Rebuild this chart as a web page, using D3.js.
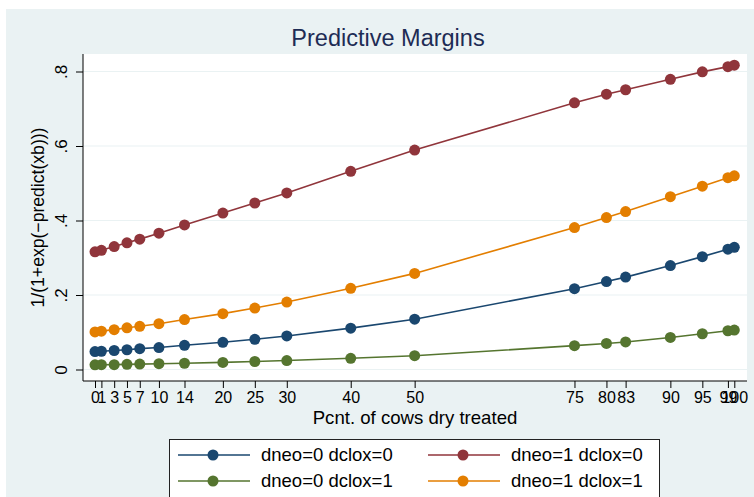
<!DOCTYPE html>
<html>
<head>
<meta charset="utf-8">
<script src="https://cdn.jsdelivr.net/npm/d3@7"></script>
<style>
  body { margin: 0; background: #fff; }
  text { font-family: "Liberation Sans", Arial, Helvetica, sans-serif; }
</style>
</head>
<body>
<div class="canvas"></div>
<script>
// data
const pcnt = [0, 1, 3, 5, 7, 10, 14, 20, 25, 30, 40, 50, 75, 80, 83, 90, 95, 99, 100]
const yTicks = [0, 0.2, 0.4, 0.6, 0.8]
const yTickLabels = ["0", ".2", ".4", ".6", ".8"]
const seriesNames = ["dneo=0 dclox=0", "dneo=1 dclox=0", "dneo=0 dclox=1", "dneo=1 dclox=1"]
const neo0clox0 = [0.048, 0.049, 0.051, 0.053, 0.056, 0.059, 0.065, 0.073, 0.081, 0.090, 0.111, 0.135, 0.217, 0.236, 0.248, 0.279, 0.303, 0.323, 0.328]
const neo1clox0 = [0.316, 0.320, 0.330, 0.340, 0.350, 0.366, 0.388, 0.420, 0.447, 0.474, 0.532, 0.589, 0.716, 0.739, 0.751, 0.779, 0.799, 0.813, 0.817]
const neo0clox1 = [0.0125, 0.0128, 0.013, 0.0138, 0.0145, 0.0155, 0.0168, 0.019, 0.0215, 0.024, 0.030, 0.037, 0.064, 0.070, 0.074, 0.086, 0.096, 0.104, 0.106]
const neo1clox1 = [0.101, 0.103, 0.107, 0.112, 0.116, 0.123, 0.134, 0.150, 0.165, 0.181, 0.218, 0.258, 0.381, 0.408, 0.424, 0.464, 0.492, 0.515, 0.520]
const colors = ["#1a476f", "#90353b", "#55752f", "#e37e00"]

const allSeries = [neo0clox0, neo1clox0, neo0clox1, neo1clox1]

const width = 754
const height = 497

const svg = d3.select(".canvas")
    .append("svg")
    .attr("width", width)
    .attr("height", height)

// graph region background
svg.append("rect")
    .attr("x", 6)
    .attr("y", 9)
    .attr("width", width - 6)
    .attr("height", height - 9)
    .attr("fill", "#eaf2f3")

const plot = { left: 83, right: 747, top: 54, bottom: 381 }

svg.append("rect")
    .attr("x", plot.left)
    .attr("y", plot.top)
    .attr("width", plot.right - plot.left)
    .attr("height", plot.bottom - plot.top)
    .attr("fill", "#fff")

const x = d3.scaleLinear()
    .domain([0, 100])
    .range([95, 734.3])

const y = d3.scaleLinear()
    .domain([0, 0.8])
    .range([369.5, 71.5])

// grid lines
svg.append("g")
    .selectAll("line")
    .data(yTicks)
    .join("line")
    .attr("x1", plot.left)
    .attr("x2", plot.right)
    .attr("y1", d => y(d))
    .attr("y2", d => y(d))
    .attr("stroke", "#eaf2f3")
    .attr("stroke-width", 1.2)

// y axis
const yAxis = d3.axisLeft(y)
    .tickValues(yTicks)
    .tickFormat((d, i) => yTickLabels[i])
    .tickSize(7)
    .tickSizeOuter(0)

const yAxisGroup = svg.append("g")
    .attr("transform", `translate(${plot.left}, 0)`)
    .call(yAxis)
yAxisGroup.select(".domain")
    .attr("d", `M0,${plot.top}V${plot.bottom}`)
    .attr("stroke", "#000")
yAxisGroup.selectAll(".tick line").attr("stroke", "#000")
yAxisGroup.selectAll(".tick text")
    .attr("x", null)
    .attr("dy", null)
    .attr("transform", "translate(-16, 0) rotate(-90)")
    .attr("text-anchor", "middle")
    .attr("font-size", 17)
    .attr("fill", "#000")

// x axis
const xAxis = d3.axisBottom(x)
    .tickValues(pcnt)
    .tickFormat(d3.format("d"))
    .tickSize(7)
    .tickSizeOuter(0)

const xAxisGroup = svg.append("g")
    .attr("transform", `translate(0, ${plot.bottom})`)
    .call(xAxis)
xAxisGroup.select(".domain")
    .attr("d", `M${plot.left},0H${plot.right}`)
    .attr("stroke", "#000")
xAxisGroup.selectAll(".tick line").attr("stroke", "#000")
xAxisGroup.selectAll(".tick text")
    .attr("y", 22)
    .attr("dy", null)
    .attr("font-size", 16)
    .attr("fill", "#000")

// axis titles
svg.append("text")
    .attr("x", (plot.left + plot.right) / 2)
    .attr("y", 424)
    .attr("text-anchor", "middle")
    .attr("font-size", 18.6)
    .text("Pcnt. of cows dry treated")

svg.append("text")
    .attr("transform", `translate(44, ${(plot.top + plot.bottom) / 2}) rotate(-90)`)
    .attr("text-anchor", "middle")
    .attr("font-size", 17.6)
    .text("1/(1+exp(\u2212predict(xb)))")

// title
svg.append("text")
    .attr("x", 388)
    .attr("y", 46)
    .attr("text-anchor", "middle")
    .attr("font-size", 23.5)
    .attr("fill", "#1e2c55")
    .text("Predictive Margins")

// lines and markers
const line = d3.line()
    .x((d, i) => x(pcnt[i]))
    .y(d => y(d))

allSeries.forEach((vals, k) => {
    svg.append("path")
        .datum(vals)
        .attr("d", line)
        .attr("fill", "none")
        .attr("stroke", colors[k])
        .attr("stroke-width", 1.6)
})
allSeries.forEach((vals, k) => {
    svg.append("g")
        .selectAll("circle")
        .data(vals)
        .join("circle")
        .attr("cx", (d, i) => x(pcnt[i]))
        .attr("cy", d => y(d))
        .attr("r", 5.5)
        .attr("fill", colors[k])
})

// legend
const legend = svg.append("g")
legend.append("rect")
    .attr("x", 169.5)
    .attr("y", 439.5)
    .attr("width", 490)
    .attr("height", 70)
    .attr("fill", "#fff")
    .attr("stroke", "#222")
    .attr("stroke-width", 1)

const legendPos = [
    { kx: 178, ty: 455 },
    { kx: 428, ty: 455 },
    { kx: 178, ty: 481 },
    { kx: 428, ty: 481 }
]
seriesNames.forEach((name, k) => {
    const p = legendPos[k]
    legend.append("line")
        .attr("x1", p.kx)
        .attr("x2", p.kx + 72)
        .attr("y1", p.ty)
        .attr("y2", p.ty)
        .attr("stroke", colors[k])
        .attr("stroke-width", 1.6)
    legend.append("circle")
        .attr("cx", p.kx + 35)
        .attr("cy", p.ty)
        .attr("r", 5.5)
        .attr("fill", colors[k])
    legend.append("text")
        .attr("x", p.kx + 83)
        .attr("y", p.ty + 6)
        .attr("font-size", 18.5)
        .text(name)
})
</script>
</body>
</html>
